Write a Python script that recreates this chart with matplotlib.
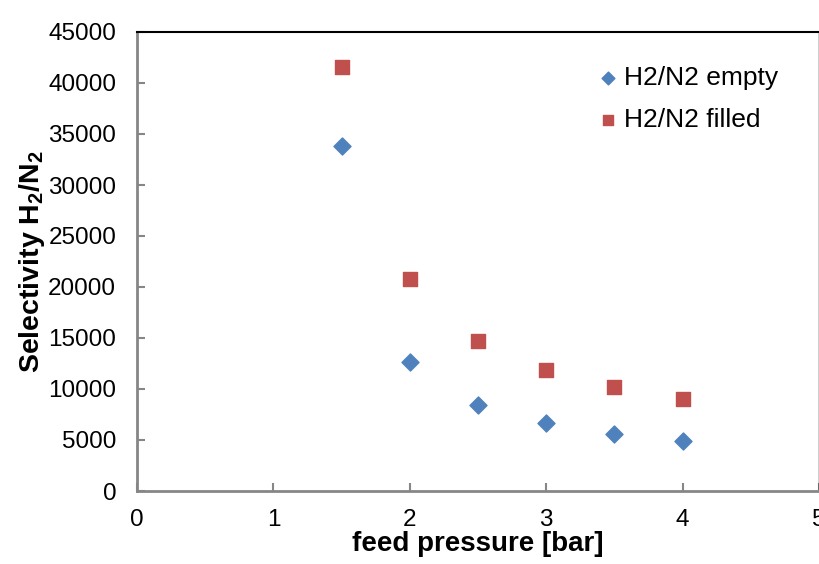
import matplotlib.pyplot as plt

plt.rcParams['font.family'] = ['Liberation Sans', 'DejaVu Sans']
plt.rcParams['mathtext.fontset'] = 'custom'
plt.rcParams['mathtext.bf'] = 'Liberation Sans:bold'

pressure = [1.5, 2.0, 2.5, 3.0, 3.5, 4.0]
sel_empty = [33800, 12650, 8450, 6650, 5600, 4900]
sel_filled = [41600, 20800, 14700, 11900, 10200, 9000]

fig = plt.figure(figsize=(8.2, 5.64), dpi=100)
ax = fig.add_axes([137/820, 1 - 491/564, (819 - 137)/820, (491 - 32)/564])

ax.scatter(pressure, sel_empty, marker='D', s=75, color='#4F81BD', label='H2/N2 empty', zorder=3)
ax.scatter(pressure, sel_filled, marker='s', s=110, color='#C0504D', label='H2/N2 filled', zorder=3)

ax.set_xlim(0, 5)
ax.set_ylim(0, 45000)
ax.set_xticks(range(0, 6))
ax.set_yticks(range(0, 45001, 5000))
ax.tick_params(direction='in', labelsize=17.5, length=6, color='#868686', width=1.5)
ax.tick_params(axis='y', pad=15)
ax.tick_params(axis='x', pad=13)

for s in ['left', 'bottom']:
    ax.spines[s].set_color('#868686')
    ax.spines[s].set_linewidth(2)
ax.spines['top'].set_linewidth(1.5)
ax.spines['right'].set_linewidth(1)

ax.set_xlabel('feed pressure [bar]', fontsize=20, fontweight='bold', labelpad=0)
ax.set_ylabel('Selectivity H$_\\mathbf{2}$/N$_\\mathbf{2}$', fontsize=20.5, fontweight='bold', labelpad=1)

leg = ax.legend(loc='upper right', bbox_to_anchor=(0.975, 0.978), frameon=False, fontsize=19,
                handletextpad=0.2, handlelength=0.8, markerscale=0.75, labelspacing=0.7)

fig.savefig('out.png', dpi=100)
